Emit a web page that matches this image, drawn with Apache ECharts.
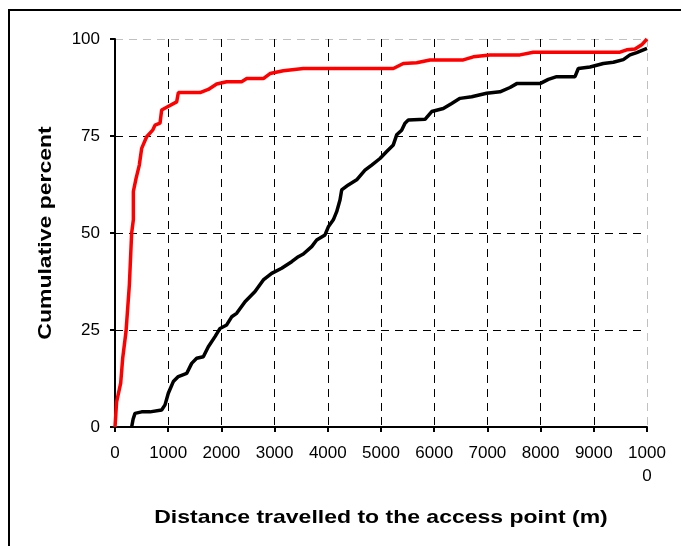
<!DOCTYPE html>
<html>
<head>
<meta charset="utf-8">
<style>
  html, body { margin: 0; padding: 0; background: #fff; }
  #chart { width: 681px; height: 546px; }
</style>
<script src="https://cdn.jsdelivr.net/npm/echarts@6/dist/echarts.min.js"></script>
</head>
<body>
<div id="chart"></div>
<script>
// Cumulative distribution of distance travelled, two groups: [distance m, cumulative %]
const groupRed = [
  [0, 0], [30, 6.5], [107, 11.3], [145, 17.8], [207, 24.6], [270, 36.6], [313, 50],
  [345, 53.4], [345, 60.7], [395, 64], [457, 67.5], [501, 71.8], [595, 74.8], [708, 76.5],
  [752, 77.8], [846, 78.3], [877, 81.7], [971, 82.4], [1159, 83.8], [1191, 86.2],
  [1598, 86.2], [1754, 87], [1911, 88.4], [2099, 89], [2380, 89], [2476, 89.8],
  [2788, 89.8], [2914, 91.1], [3164, 91.8], [3540, 92.4], [5231, 92.4], [5419, 93.7],
  [5670, 93.9], [5921, 94.6], [6547, 94.6], [6735, 95.4], [7049, 95.9], [7613, 95.9],
  [7863, 96.6], [9492, 96.6], [9618, 97.2], [9774, 97.4], [9900, 98.5], [10000, 100]
];
const groupBlack = [
  [313, 0], [340, 2], [376, 3.5], [501, 3.9], [658, 3.9], [877, 4.4], [940, 5.7],
  [1002, 8.7], [1096, 11.7], [1190, 13], [1347, 13.8], [1441, 16.4], [1535, 17.7],
  [1660, 18.1], [1754, 20.7], [1880, 23.3], [1974, 25.4], [2099, 26.3], [2193, 28.4],
  [2287, 29.3], [2444, 32.3], [2632, 34.9], [2788, 37.9], [2945, 39.6], [3133, 40.9],
  [3321, 42.6], [3446, 43.9], [3540, 44.6], [3697, 46.5], [3791, 48.2], [3947, 49.5],
  [4010, 51.6], [4104, 53.4], [4167, 55.5], [4229, 58.5], [4261, 61.1], [4386, 62.4],
  [4543, 63.7], [4699, 66.2], [4825, 67.5], [4981, 69.2], [5107, 71], [5231, 72.7],
  [5295, 75.3], [5388, 76.5], [5451, 78.3], [5513, 79.1], [5827, 79.3], [5953, 81.3],
  [6171, 82.1], [6329, 83.4], [6485, 84.7], [6705, 85.1], [6986, 86], [7237, 86.4],
  [7425, 87.5], [7551, 88.5], [7989, 88.5], [8145, 89.6], [8302, 90.3], [8647, 90.3],
  [8709, 92.4], [8929, 92.8], [9179, 93.7], [9367, 94], [9555, 94.7], [9680, 95.9],
  [9806, 96.5], [10000, 97.6]
];
const xTickLabels = {
  0: '0', 1000: '1000', 2000: '2000', 3000: '3000', 4000: '4000', 5000: '5000',
  6000: '6000', 7000: '7000', 8000: '8000', 9000: '9000', 10000: '1000\n0'
};
const yTickLabels = { 0: '0', 25: '25', 50: '50', 75: '75', 100: '100' };
const xTitle = 'Distance travelled to the access point (m)';
const yTitle = 'Cumulative percent';

const font = '"Liberation Sans", Arial, sans-serif';
const titleFont = 'bold 19px "Liberation Sans", Arial, sans-serif';
const chart = echarts.init(document.getElementById('chart'), null, { renderer: 'canvas' });

// inner grid lines black, the outermost (max) line light grey
const xGridColors = Array(10).fill('#000').concat(['#c0c0c0']);
const yGridColors = Array(4).fill('#000').concat(['#c0c0c0']);

chart.setOption({
  animation: false,
  backgroundColor: '#fff',
  graphic: [
    {
      type: 'rect',
      shape: { x: 9, y: 10, width: 720, height: 580 },
      style: { fill: 'none', stroke: '#000', lineWidth: 2 },
      silent: true
    },
    {
      // horizontal axis title, drawn slightly widened
      type: 'text', x: 381, y: 518, scaleX: 1.21,
      style: { text: xTitle, font: titleFont, fill: '#000', align: 'center', verticalAlign: 'middle' },
      silent: true
    },
    {
      // vertical axis title, reading bottom to top
      type: 'text', x: 46, y: 233, rotation: Math.PI / 2, scaleX: 1.21,
      style: { text: yTitle, font: titleFont, fill: '#000', align: 'center', verticalAlign: 'middle' },
      silent: true
    }
  ],
  grid: { left: 115, top: 39, right: 34, bottom: 119, containLabel: false },
  xAxis: {
    type: 'value',
    min: 0, max: 10000, interval: 1000,
    axisLine: { show: true, lineStyle: { color: '#000', width: 2 } },
    axisTick: { show: true, length: 5, lineStyle: { color: '#000', width: 2 } },
    axisLabel: {
      margin: 15, fontFamily: font, fontSize: 17, color: '#000', lineHeight: 23,
      verticalAlign: 'top',
      formatter: v => xTickLabels[v] ?? ''
    },
    splitLine: { show: true, lineStyle: { color: xGridColors, type: [8, 6], width: 1 } }
  },
  yAxis: {
    type: 'value',
    min: 0, max: 100, interval: 25,
    axisLine: { show: true, lineStyle: { color: '#000', width: 2 } },
    axisTick: { show: true, length: 5, lineStyle: { color: '#000', width: 2 } },
    axisLabel: {
      margin: 15, fontFamily: font, fontSize: 17, color: '#000',
      formatter: v => yTickLabels[v] ?? ''
    },
    splitLine: { show: true, lineStyle: { color: yGridColors, type: [8, 6], width: 1 } }
  },
  series: [
    {
      type: 'line', data: groupBlack, showSymbol: false, symbol: 'none',
      lineStyle: { color: '#000', width: 3.5 }, z: 3
    },
    {
      type: 'line', data: groupRed, showSymbol: false, symbol: 'none',
      lineStyle: { color: '#ff0000', width: 3.5 }, z: 4
    }
  ]
});
</script>
</body>
</html>
